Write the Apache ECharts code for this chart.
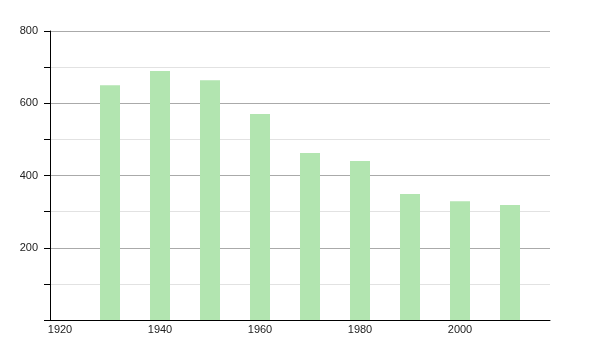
<!DOCTYPE html>
<html><head><meta charset="utf-8">
<script src="https://cdn.jsdelivr.net/npm/echarts@6/dist/echarts.min.js"></script>
<style>html,body{margin:0;padding:0;background:#fff}#c{width:600px;height:350px}</style>
</head><body><div id="c"></div>
<script>
const years = [1930, 1940, 1950, 1960, 1970, 1980, 1990, 2000, 2010];
const population = [650, 689, 664, 570, 462, 440, 349, 329, 318];
const xTickLabels = [1920, 1940, 1960, 1980, 2000];
const yTickLabels = [200, 400, 600, 800];

const chart = echarts.init(document.getElementById('c'), null, {renderer: 'canvas'});
chart.setOption({
  animation: false,
  backgroundColor: '#fff',
  grid: {left: 50, right: 50, top: 31, bottom: 30, containLabel: false},
  xAxis: {
    type: 'value', min: 1918, max: 2018,
    axisLine: {show: true, lineStyle: {color: '#000', width: 1}},
    axisTick: {show: false},
    splitLine: {show: false},
    axisLabel: {customValues: xTickLabels, color: '#222', fontSize: 11, fontFamily: 'Liberation Sans', margin: 4,
      formatter: v => String(v)}
  },
  yAxis: {
    type: 'value', min: 0, max: 800, interval: 100,
    axisLine: {show: true, lineStyle: {color: '#000', width: 1}},
    axisTick: {show: true, length: 6, lineStyle: {color: '#000'}},
    splitLine: {show: true, lineStyle: {color: ['#aaaaaa', '#e2e2e2'], width: 1}},
    axisLabel: {
      color: '#222', fontSize: 11, fontFamily: 'Liberation Sans', margin: 12,
      formatter: v => yTickLabels.includes(v) ? String(v) : ''
    }
  },
  series: [{
    type: 'bar',
    data: years.map((y, i) => [y, population[i]]),
    barWidth: 20,
    itemStyle: {color: '#b2e5b0'}
  }]
});
</script></body></html>
